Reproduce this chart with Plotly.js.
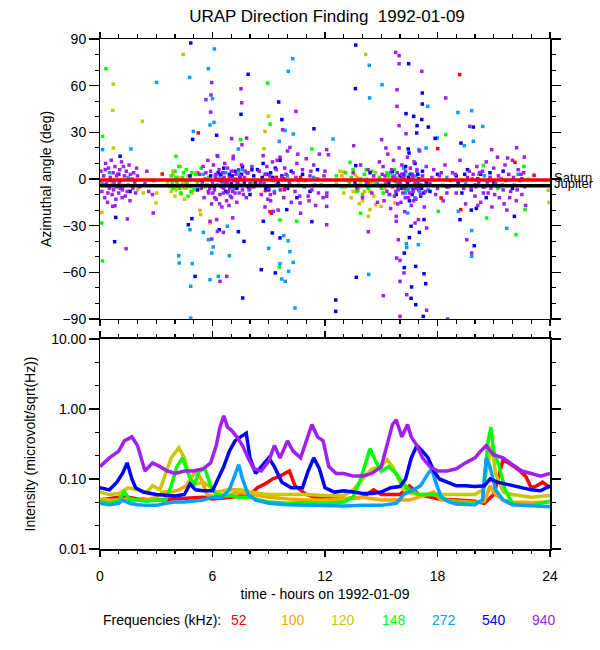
<!DOCTYPE html>
<html><head><meta charset="utf-8">
<script src="https://cdn.plot.ly/plotly-3.0.1.min.js"></script>
<style>html,body{margin:0;padding:0;background:#fff}#chart{width:600px;height:650px}</style>
</head><body><div id="chart"></div>
<script>
// ---------- DATA ----------
const freqLabels = ['52','100','120','148','272','540','940'];
const freqColors = ['#ff0000','#ffa500','#c8c800','#00ff00','#00a0ff','#0000ff','#a020f0'];
const timeRange = [0, 24];
const saturnAngle = [-0.6];
const jupiterAngle = [-4.3];
const angleTicks = [-90,-60,-30,0,30,60,90];
const intensityTicks = [0.01,0.1,1,10];
const intensityTickText = ['0.01','0.10','1.00','10.00'];
const intensityMinor = [0.0215,0.0464,0.215,0.464,2.15,4.64];

// azimuth points [hour, angle]
const az52 = [[4.6,-2],[5.2,4],[5.24,29.6],[3.32,3.2],[9.07,-21],[9.15,-22],[9.83,-6.9],[8.82,-7.5],[8.2,-5],[9.4,1],[10.7,1],
  [14.3,-3],[16.2,2],[17.0,-7],[19.18,67.1],[18.01,19.5],[19.24,-19.7],[18.19,-12.2],[22.13,10.7],[23.15,2.4],[20.8,-1]];
const az100 = [[3.9,5],[4.1,-3],[4.3,8],[4.5,-6],[4.7,2],[4.9,-9],[5.1,4],[5.3,-1],[4.44,80.1],[8.8,30.6],[0.09,-21.4],[5.87,-28.3],[5.33,-20.2],
  [12.98,4.5],[12.9,2],[13.3,-4],[13.7,1],[14.1,-8],[14.5,-2],[14.7,-16.5],[14.99,-17.6],[15.73,-15.4],[15.2,-6],[15.6,3],[22.84,0]];
const az120 = [[3.6,-2],[3.8,-8],[3.9,3],[4.0,-11],[4.1,-5],[4.2,1],[4.3,-9],[4.4,-3],[4.5,-13],[4.6,-6],[4.7,2],[4.9,-8],[1.2,-4],[2.0,-7],
  [0.71,61],[0.68,44.1],[2.26,37.1],[0.71,19.9],[2.31,-9],[2.99,-15.4],[3.02,-9],[5.37,-22.9],[8.98,40.3],[8.75,19.5],
  [12.6,-3],[12.8,5],[13.0,-9],[13.2,-1],[13.4,-12],[13.6,3],[13.8,-6],[14.0,-14],[14.2,0],[14.4,-8],[14.7,4],[15.0,-5],[15.4,-10],[15.8,1],
  [14.17,80.1],[13.78,-7.5],[13.83,-15.9],[14.31,-24],[14.4,-19.7],[23.91,-7.3],[23.95,-15],
  [3.7,-5],[4.05,-7],[4.25,-4],[4.35,-10],[4.55,-1],[4.8,-5],[13.1,-5],[13.5,-8],[13.9,-2],[14.3,-4],[14.6,-11],[15.2,-2]];
const az148 = [[3.8,2],[3.9,-6],[4.0,5],[4.1,-2],[4.2,8],[4.3,-9],[4.4,1],[4.5,-4],[4.6,6],[4.7,-11],[4.8,0],[4.9,4],[5.0,-7],[5.1,3],[5.2,-2],
  [5.4,7],[5.6,-5],[5.8,1],[6.6,-2],[7.4,4],[8.2,-3],[0.32,70.9],[0.14,27.4],[0.09,-28.3],[0.14,-52.7],[4.05,14.6],[8.94,61.7],[9.07,35.3],
  [7.5,25.3],[11.3,19.3],[9.6,-26.4],[10.49,-27.2],[9.56,-56.6],
  [12.6,2],[12.9,-5],[13.1,4],[13.3,-2],[13.5,6],[13.7,-8],[13.9,0],[14.1,3],[14.3,-6],[14.5,5],[14.7,-3],[14.9,1],[15.1,-9],[15.3,4],[15.5,-1],
  [15.7,6],[15.9,-4],[16.1,2],[16.3,-7],[18.3,-4],[20.2,3],[21.2,-6],[22.4,-1],[13.33,10.7],[18.44,28.5],[13.9,-22.1],[18.04,-20.8],[20.62,-25.1],
  [22.19,-35.8],[22.67,-19.7],[22.61,8.1],[20.44,8.6],
  [3.85,-3],[4.05,1],[4.25,-6],[4.45,4],[4.65,-2],[4.85,-8],[13.4,1],[13.8,-4],[14.2,6],[14.6,-1],[15.0,-6],[15.4,2],[15.8,-2],[14.0,-10]];
const az272 = [[0.1,-2],[0.5,4],[1.2,-6],[1.5,1],[5.5,3],[6.2,-4],[6.4,2],[6.8,-9],[7.0,0],[7.3,-3],[7.6,6],[8.0,-6],[8.8,3],[9.3,-8],[10.0,2],
  [10.6,-4],[11.4,1],[6.1,83.6],[5.78,70.9],[3.02,62.1],[4.78,65.3],[6.0,51.6],[6.08,36.4],[4.98,30.6],[5.87,34.7],[7.38,19.3],[1.65,19.3],
  [10.04,69.2],[10.28,77.3],[10.31,28.9],[9.87,31.2],[9.56,24.2],[0.14,18.9],[4.8,-32.6],[5.51,-34.3],[5.78,-39],[6.04,-43.7],[5.96,-47.6],
  [6.9,-49.3],[4.2,-49.3],[4.23,-54],[4.92,-54.4],[4.84,-69],[5.87,-64.7],[6.31,-62.6],[9.69,-64.3],[9.88,-65.8],[10.06,-59.4],[10.13,-46.7],
  [10.4,-82.9],[9.0,-44.6],[9.8,-36.4],[10.03,-39.7],[9.6,-54.4],[10.31,-53.6],[6.79,-30.4],[4.84,-89.4],
  [14.8,-3],[15.5,4],[15.9,-6],[16.1,0],[16.2,7],[16.3,-9],[16.4,-2],[16.5,3],[16.6,-5],[16.7,1],[16.8,-12],[16.9,5],[17.0,-3],[17.2,2],
  [17.5,-7],[18.5,1],[19.5,-3],[20.5,2],[21.3,-5],[22.3,3],[14.36,73.1],[15.04,60.6],[14.38,52.1],[12.43,25.7],[17.48,46.7],[19.09,42.8],
  [19.82,43.9],[20.41,33.8],[19.43,21.4],[19.91,24.2],[17.99,26.4],[17,18.9],[17.39,19.9],[14.33,-61.3],[16.34,-41.6],[16.36,-44],[16.98,-42.2],
  [19.82,-33.2],[19.82,-49.7],[21.69,-31.7],[19.11,-20.8],[16.41,-21.9],
  [16.05,-4],[16.25,3],[16.45,-7],[16.55,0],[16.75,-4],[16.85,2],[17.05,-8],[6.5,-2],[6.7,4],[7.15,-6],[7.45,1],[15.7,2]];
const az540 = [[5.9,2],[6.1,-5],[6.3,4],[6.5,-1],[6.6,7],[6.7,-8],[6.9,3],[7.0,-3],[7.2,5],[7.3,-6],[7.45,1],[7.6,8],[7.7,-2],[7.85,4],[8.0,-10],
  [8.2,2],[8.4,6],[8.55,-4],[8.7,10],[8.9,3],[9.0,-7],[9.2,1],[9.35,7],[9.5,-2],[9.6,12],[9.8,0],[10.0,-6],[10.2,5],[10.5,-12],[10.8,3],
  [11.2,-8],[11.6,6],[0.3,-4],[1.0,3],[1.6,-8],[4.8,2],[5.2,-7],[4.84,87.4],[7.9,67.3],[7.52,41.6],[9.53,49.5],[9.7,38.2],[11.41,32.3],
  [6.22,28.1],[4.94,25.5],[1.07,14.6],[0.84,-24.7],[0.78,-40.3],[4.71,-29.4],[4.9,-25.5],[6.36,-32.6],[7.38,-33.9],[7.68,-40.1],[8.71,-27.2],
  [9.19,-34.7],[9.6,-37.9],[8.6,-58.3],[9.35,-60.4],[7.61,-76.5],[5.07,-62.6],[11.3,-27.4],[9.96,-19.7],
  [15.4,-3],[15.6,5],[15.8,-10],[16.0,2],[16.1,-6],[16.3,8],[16.4,-2],[16.5,-14],[16.6,3],[16.7,-7],[16.8,10],[16.9,-4],[17.0,0],[17.1,-11],
  [17.2,5],[17.4,-2],[17.6,-8],[18.0,3],[18.5,-5],[19.0,2],[19.3,-9],[19.6,6],[20.0,-4],[20.3,3],[20.6,-12],[21.0,-2],[21.5,5],[22.0,-6],
  [22.5,0],[13.6,-2],[14.4,4],[13.64,86.1],[16.46,74.1],[13.62,58.1],[17.19,55.3],[17.19,48.2],[16.32,42],[17.16,38.2],[16.73,40.3],
  [17.51,33.4],[16.91,34.3],[16.89,29.6],[17.87,26.1],[19.91,33.4],[19.25,23.1],[16.44,19.3],[16.48,16.7],[13.64,8.6],[16.59,-30.4],
  [17.03,-34.3],[16.5,-37.7],[16.23,-47.6],[16.23,-57],[16.84,-56.2],[17.28,-60.9],[17.37,-67.3],[16.62,-69.4],[16.59,-76.7],[16.84,-80.8],
  [17.24,-88.3],[13.67,-63.2],[12.57,-77.8],[12.57,-85.1],[19.96,-42.9],[19.2,-26.1],[20.07,-18.9],[19.8,-20],[22.1,-24],[17.28,-26.1],[17.26,-9],
  [6.2,0],[6.45,3],[6.8,-4],[7.05,2],[7.35,-1],[7.55,3],[7.9,-5],[8.1,6],[8.3,-2],[8.65,1],[8.85,-6],[9.1,4],[9.4,-4],[9.7,2],[15.7,-1],
  [15.95,-4],[16.15,3],[16.45,1],[16.65,-10],[16.95,3],[17.15,-6],[19.1,-2],[19.45,3],[19.8,-7],[20.15,0],[20.45,-5],[20.8,4]];
const az940 = [
  [0.05,5],[0.1,-8],[0.2,2],[0.25,-12],[0.3,10],[0.35,-3],[0.4,-15],[0.45,7],[0.5,-6],[0.55,1],[0.6,12],[0.65,-10],[0.7,4],[0.75,-2],[0.8,8],
  [0.85,-13],[0.9,-5],[0.95,3],[1.0,-9],[1.05,6],[1.1,-1],[1.15,11],[1.2,-7],[1.3,2],[1.35,-11],[1.4,5],[1.5,-4],[1.55,9],[1.6,-14],[1.7,0],
  [1.75,-6],[1.8,4],[1.9,-9],[2.0,2],[2.1,-5],[2.4,-3],[2.5,5],[2.6,-8],[2.8,-10],[2.85,-1],
  [0.15,-4],[0.28,6],[0.42,-9],[0.58,-1],[0.72,-7],[0.88,2],[1.02,-3],[1.18,-12],[1.25,8],[1.45,-8],[1.62,3],[1.85,-2],[1.95,7],[0.62,-4],[1.08,-6],
  [5.3,3],[5.4,-6],[5.5,8],[5.55,-12],[5.6,0],[5.7,-4],[5.75,12],[5.8,-9],[5.9,5],[5.95,-16],[6.0,-2],[6.05,9],[6.1,-7],[6.15,2],[6.2,-13],
  [6.25,15],[6.3,-4],[6.35,6],[6.4,-10],[6.45,0],[6.5,-18],[6.55,4],[6.6,-6],[6.65,10],[6.7,-3],[6.75,-14],[6.8,7],[6.85,-8],[6.9,1],
  [6.95,-11],[7.0,5],[7.05,-5],[7.1,13],[7.15,-1],[7.2,-9],[7.25,3],[7.3,-15],[7.4,6],[7.5,-4],[7.55,9],[7.6,-7],[7.7,1],[7.8,-12],[7.9,4],
  [8.0,-3],[8.1,8],
  [5.45,-2],[5.65,4],[5.85,-6],[6.02,-9],[6.18,3],[6.32,-1],[6.48,-5],[6.62,1],[6.78,-2],[6.92,-6],[7.08,-8],[7.22,0],[7.35,-3],[7.48,2],
  [7.65,-10],[7.75,5],[7.95,-7],[6.12,-12],[6.58,-9],[7.02,-12],[6.38,-16],[6.88,-17],[5.78,-8],[7.42,-9],
  [8.5,5],[8.6,-10],[8.7,15],[8.75,-3],[8.8,-18],[8.9,8],[9.0,-6],[9.05,2],[9.1,-14],[9.2,11],[9.25,-1],[9.3,-9],[9.4,6],[9.5,-20],[9.55,-4],
  [9.6,14],[9.7,1],[9.8,-12],[9.85,7],[9.9,-6],[10.0,18],[10.1,-2],[10.2,-15],[10.3,4],[10.4,-8],[10.5,10],[10.6,-1],[10.7,-22],[10.8,6],
  [10.9,-5],[11.0,13],[11.1,-11],[11.2,2],[11.3,-7],[11.4,9],[11.5,-17],[11.6,0],[11.7,16],[11.8,-4],[11.9,-12],[12.0,5],[12.1,-9],
  [8.55,-2],[8.82,3],[9.08,-10],[9.35,0],[9.62,-7],[9.92,3],[10.15,-4],[10.45,1],[10.65,-11],[10.95,-1],[11.25,5],[11.45,-4],[11.65,-9],
  [11.95,2],[9.45,12],[10.55,16],[11.15,-14],[8.95,-13],
  [13.5,4],[13.7,-6],[13.9,9],[14.0,-12],[14.2,-2],[14.3,6],[14.5,-9],[14.6,2],[14.8,-15],[14.9,11],
  [15.0,-4],[15.1,8],[15.15,-14],[15.2,2],[15.3,-8],[15.35,16],[15.4,-1],[15.5,-19],[15.55,6],[15.6,-5],[15.65,12],[15.7,-11],[15.75,0],
  [15.8,-24],[15.85,4],[15.9,-7],[15.95,20],[16.0,-2],[16.05,-15],[16.1,9],[16.15,-9],[16.2,1],[16.25,-21],[16.3,5],[16.35,-5],[16.4,14],
  [16.45,-12],[16.5,-1],[16.55,7],[16.6,-17],[16.65,3],[16.7,-8],[16.75,11],[16.8,-3],[16.85,-13],[16.9,6],[17.0,-6],[17.05,18],[17.1,-10],
  [17.2,2],[17.3,-18],[17.4,8],
  [15.05,3],[15.25,-3],[15.45,-10],[15.62,1],[15.78,-8],[15.92,-3],[16.08,3],[16.22,-6],[16.38,-1],[16.52,-9],[16.68,2],[16.82,-6],[16.95,-1],
  [17.15,-4],[17.35,-8],[15.88,-16],[16.28,-12],[16.72,-14],
  [17.6,-3],[17.8,6],[17.9,-10],[18.1,2],[18.3,-14],[18.4,9],[18.6,-5],[18.8,4],[19.0,-9],[19.2,12],[19.3,-1],[19.5,-16],[19.7,5],
  [17.7,1],[18.0,-6],[18.2,4],[18.5,-9],[18.7,-1],[18.95,3],[19.4,-6],[19.6,1],
  [19.8,-6],[19.9,3],[20.0,-11],[20.1,8],[20.2,-2],[20.3,-15],[20.4,5],[20.5,-5],[20.6,11],[20.7,-9],[20.8,1],[20.9,-18],[21.0,7],[21.1,-3],
  [21.2,14],[21.3,-12],[21.4,0],[21.5,-7],[21.6,9],[21.7,-20],[21.8,3],[21.9,-8],[22.0,12],[22.1,-4],[22.2,-14],[22.3,6],[22.4,-1],[22.5,-10],
  [22.6,4],[22.7,-17],
  [19.85,0],[20.05,-5],[20.25,4],[20.45,-9],[20.65,-2],[20.85,-6],[21.05,-10],[21.25,2],[21.45,-4],[21.65,-1],[21.85,-12],[22.05,1],[22.25,-7],
  [22.45,3],[22.65,-5],[20.15,-17],[21.55,-16],
  [5.96,62],[5.92,54],[5.65,51],[5.9,43],[7.52,58],[7.56,49],[10.45,43.5],[9.74,31.7],[10.13,20.3],[6.28,14.6],[7.57,22],[1.46,-25.7],
  [1.39,-44.8],[6.76,-62.6],[6.4,-65.8],[5.96,-38.6],[6.26,-33.7],[6.58,-34.3],[7.08,-25],[9.24,-20.8],[10.67,-15.4],[12.09,-29.4],[0.8,-17.2],
  [0.68,-17.6],[2.84,-21.9],[5.87,-27.2],[6.22,-26.1],[7.02,26],[7.82,26.3],[7.11,14.6],
  [15.77,81.4],[15.95,79.3],[15.95,74.1],[17.16,69.2],[15.84,57.4],[15.84,46.7],[15.95,34.3],[16.32,29.1],[15.02,25.3],[15.25,19.9],
  [13.53,21.4],[12.09,18.9],[12.18,15.6],[18.44,52.1],[19.72,33.8],[20.89,18.9],[22.22,20.1],[22.63,14.1],[21.74,13.5],[14.31,-33.9],
  [15.91,-39],[15.82,-50.8],[16,-52.3],[16.21,-60.4],[16,-65.8],[16.36,-74.4],[15.11,-75],[16,-88.3],[17.42,-84.4],[17.42,-31.5],[19.56,-39],
  [19.82,-47.6],[18.54,-90],[16.8,-28.3],[16.98,-26.1],[15.8,-27.2],[12.09,-17.6],[12.09,-11.2]];
const azimuthSeries = [az52, az100, az120, az148, az272, az540, az940];

// intensity time series (hours, microvolt/sqrt(Hz))
const t52 = [0,0.5,1,1.5,2,3,4,5,5.5,6,7,8,8.4,8.8,9.2,9.6,10.1,10.4,11,11.5,12,13,14,14.6,15,16,16.5,17,18,19,20,20.5,21,21.5,21.8,22.1,22.4,22.7,23,23.3,23.6,24];
const v52 = [0.05,0.052,0.055,0.055,0.052,0.05,0.052,0.055,0.055,0.052,0.055,0.06,0.075,0.085,0.1,0.11,0.13,0.08,0.06,0.055,0.052,0.052,0.055,0.07,0.06,0.06,0.08,0.06,0.052,0.05,0.048,0.045,0.06,0.19,0.17,0.15,0.13,0.11,0.075,0.08,0.09,0.075];
const t100 = [0,0.5,1,1.5,2,2.5,3,3.4,3.8,4.2,4.6,4.9,5.1,5.4,5.7,6.2,6.8,7.3,7.8,8.3,9,10,11,12,13,14,15,16,16.5,17,17.5,17.8,18.2,19,20,20.5,20.8,21.1,21.5,22,23,24];
const v100 = [0.052,0.05,0.05,0.052,0.05,0.05,0.055,0.065,0.065,0.07,0.08,0.11,0.13,0.1,0.06,0.055,0.058,0.065,0.062,0.06,0.055,0.052,0.05,0.05,0.052,0.055,0.05,0.05,0.05,0.055,0.062,0.065,0.05,0.048,0.046,0.048,0.08,0.06,0.05,0.047,0.046,0.047];
const t120 = [0,0.5,1,1.5,2,2.5,2.8,3.2,3.5,3.8,4.2,4.5,4.8,5.1,5.5,5.8,6.2,6.8,7.5,8,8.5,9,10,11,12,13,13.5,14,14.5,15,15.3,15.6,15.9,16.2,16.6,17,18,19,20,20.4,20.7,20.9,21.1,21.5,22,23,24];
const v120 = [0.065,0.06,0.062,0.075,0.07,0.065,0.08,0.07,0.12,0.2,0.28,0.2,0.1,0.085,0.09,0.08,0.065,0.07,0.07,0.065,0.062,0.06,0.06,0.06,0.058,0.058,0.07,0.1,0.14,0.15,0.19,0.15,0.1,0.07,0.062,0.06,0.06,0.06,0.06,0.07,0.18,0.3,0.12,0.065,0.06,0.055,0.058];
const t148 = [0,0.5,1,1.3,1.6,2,2.5,3,3.5,3.8,4.1,4.4,4.7,5,5.3,5.6,5.9,6.2,6.8,7.5,8,8.5,9,10,11,12,13,13.5,13.9,14.2,14.4,14.7,15,15.4,15.8,16.1,16.5,17,17.5,18,18.5,19,20,20.4,20.7,20.85,21,21.3,21.6,22,22.5,23,23.5,24];
const v148 = [0.048,0.045,0.05,0.065,0.05,0.05,0.048,0.05,0.05,0.08,0.15,0.2,0.12,0.08,0.13,0.14,0.08,0.06,0.058,0.055,0.055,0.05,0.047,0.045,0.046,0.045,0.047,0.055,0.1,0.18,0.27,0.18,0.13,0.15,0.12,0.09,0.07,0.06,0.06,0.06,0.05,0.046,0.045,0.05,0.35,0.55,0.25,0.15,0.07,0.045,0.042,0.042,0.045,0.048];
const t272 = [0,0.5,1,1.2,1.6,2,2.5,3,3.5,4,4.5,5,5.5,6,6.5,6.9,7.2,7.4,7.6,7.9,8.3,9,10,11,12,13,14,15,15.8,16.2,16.7,17.1,17.5,17.7,17.9,18.2,18.6,19,20,20.4,20.6,20.8,21.1,21.5,22,23,24];
const v272 = [0.045,0.043,0.045,0.05,0.045,0.043,0.042,0.042,0.045,0.047,0.047,0.048,0.05,0.055,0.055,0.07,0.12,0.16,0.1,0.06,0.05,0.045,0.043,0.042,0.042,0.041,0.042,0.042,0.045,0.06,0.07,0.08,0.12,0.14,0.09,0.055,0.047,0.044,0.043,0.05,0.2,0.15,0.07,0.05,0.043,0.041,0.04];
const t540 = [0,0.5,0.9,1.2,1.45,1.7,1.9,2.3,3,3.5,4,4.5,4.8,5.1,5.5,6,6.3,6.6,6.9,7.2,7.5,7.8,8,8.3,8.6,9,9.3,9.7,10.2,10.8,11.1,11.4,11.7,12,12.5,13,13.5,14,14.5,15,15.5,16,16.3,16.6,16.9,17.2,17.5,17.8,18.1,18.5,19,19.5,20,20.5,20.8,21.2,21.6,22,22.5,23,23.5,24];
const v540 = [0.075,0.07,0.09,0.12,0.17,0.1,0.075,0.065,0.06,0.058,0.057,0.06,0.085,0.07,0.068,0.068,0.1,0.15,0.25,0.35,0.4,0.45,0.2,0.12,0.15,0.2,0.15,0.09,0.075,0.075,0.13,0.2,0.14,0.075,0.065,0.068,0.065,0.062,0.062,0.065,0.075,0.078,0.1,0.2,0.3,0.25,0.2,0.13,0.1,0.09,0.08,0.08,0.078,0.08,0.1,0.09,0.085,0.08,0.075,0.07,0.068,0.08];
const t940 = [0,0.5,1,1.3,1.7,2,2.4,2.8,3.2,3.6,4,4.5,5,5.5,5.9,6.2,6.4,6.6,6.8,7,7.3,7.6,7.9,8.2,8.6,9,9.3,9.6,10,10.3,10.7,11,11.3,11.6,11.9,12.2,12.6,13,13.5,14,14.5,15,15.3,15.6,15.8,16.1,16.4,16.6,16.9,17.2,17.6,18,18.5,19,19.5,20,20.3,20.6,21,21.5,22,22.5,23,23.5,24];
const v940 = [0.15,0.2,0.25,0.35,0.4,0.3,0.13,0.17,0.15,0.13,0.12,0.13,0.13,0.14,0.17,0.3,0.55,0.8,0.55,0.5,0.4,0.3,0.2,0.14,0.13,0.18,0.3,0.2,0.35,0.25,0.2,0.35,0.6,0.4,0.35,0.15,0.12,0.12,0.11,0.11,0.12,0.15,0.3,0.6,0.7,0.4,0.6,0.4,0.3,0.2,0.15,0.13,0.13,0.14,0.17,0.2,0.25,0.3,0.22,0.2,0.16,0.13,0.12,0.11,0.12];
const intensityT = [t52,t100,t120,t148,t272,t540,t940];
const intensityV = [v52,v100,v120,v148,v272,v540,v940];

// ---------- PLOT ----------
const FONT = 'Liberation Sans, Arial, Helvetica, sans-serif';
const traces = [];
azimuthSeries.forEach((pts, i) => {
  traces.push({
    type: 'scatter', mode: 'markers', xaxis: 'x', yaxis: 'y',
    x: pts.map(p => p[0]), y: pts.map(p => p[1]),
    marker: {symbol: 'square', size: 3.5, color: freqColors[i], line: {width: 0}},
    name: freqLabels[i] + ' kHz', showlegend: false, hoverinfo: 'skip'
  });
});
intensityT.forEach((t, i) => {
  traces.push({
    type: 'scatter', mode: 'lines', xaxis: 'x2', yaxis: 'y2',
    x: t, y: intensityV[i],
    line: {color: freqColors[i], width: 3.5},
    name: freqLabels[i] + ' kHz', showlegend: false, hoverinfo: 'skip'
  });
});

const axBase = {
  showline: true, linecolor: '#000', linewidth: 1.5, mirror: 'ticks',
  ticks: 'outside', tickcolor: '#000', tickwidth: 1.3,
  showgrid: false, zeroline: false,
  tickfont: {family: FONT, size: 14, color: '#000'}
};
const xMinor = {dtick: 1, ticks: 'outside', ticklen: 3.5, tickwidth: 1.2, tickcolor: '#000', showgrid: false};

const legendX = [239, 293, 343, 394, 444, 494, 544]; // pixel centres of legend labels
const plotL = 100, plotW = 450, plotTop = 39, plotH = 510;
const annotations = [
  {xref: 'paper', yref: 'paper', x: (101 - plotL) / plotW, y: (plotTop + plotH - 620) / plotH,
   xanchor: 'left', yanchor: 'middle', text: 'Frequencies (kHz):', showarrow: false,
   font: {family: FONT, size: 14, color: '#000'}},
  {xref: 'paper', yref: 'y', x: 1, y: saturnAngle[0], xanchor: 'left', yanchor: 'middle', xshift: 2, yshift: 2,
   text: 'Saturn', showarrow: false, font: {family: FONT, size: 13, color: '#000'}},
  {xref: 'paper', yref: 'y', x: 1, y: jupiterAngle[0], xanchor: 'left', yanchor: 'middle', xshift: 2, yshift: 2,
   text: 'Jupiter', showarrow: false, font: {family: FONT, size: 13, color: '#000'}}
];
freqLabels.forEach((f, i) => {
  annotations.push({xref: 'paper', yref: 'paper', x: (legendX[i] - plotL) / plotW, y: (plotTop + plotH - 620) / plotH,
    xanchor: 'center', yanchor: 'middle', text: f, showarrow: false,
    font: {family: FONT, size: 14, color: freqColors[i]}});
});

const layout = {
  width: 600, height: 650,
  margin: {l: plotL, r: 600 - plotL - plotW, t: plotTop, b: 650 - plotTop - plotH, pad: 0},
  paper_bgcolor: '#fff', plot_bgcolor: '#fff',
  font: {family: FONT, color: '#000'},
  title: {text: 'URAP Direction Finding \u00a01992-01-09', x: 327 / 600, xanchor: 'center',
          y: 1 - 16 / 650, yanchor: 'middle', font: {family: FONT, size: 17, color: '#000'}},
  xaxis: Object.assign({}, axBase, {
    domain: [0, 1], anchor: 'y', range: timeRange, tickmode: 'linear', tick0: 0, dtick: 6,
    ticklen: 6, showticklabels: false, minor: xMinor
  }),
  yaxis: Object.assign({}, axBase, {
    domain: [0.451, 1], anchor: 'x', range: [-90, 90], tickmode: 'array', tickvals: angleTicks,
    ticklen: 9.5,
    minor: {dtick: 10, tick0: 0, ticks: 'outside', ticklen: 4, tickwidth: 1.2, tickcolor: '#000', showgrid: false},
    title: {text: 'Azimuthal angle (deg)', font: {family: FONT, size: 14, color: '#000'}, standoff: 7}
  }),
  xaxis2: Object.assign({}, axBase, {
    domain: [0, 1], anchor: 'y2', range: timeRange, tickmode: 'linear', tick0: 0, dtick: 6,
    ticklen: 6, ticklabelstandoff: 8, minor: xMinor,
    title: {text: 'time - hours on 1992-01-09', font: {family: FONT, size: 14, color: '#000'}, standoff: 6}
  }),
  yaxis2: Object.assign({}, axBase, {
    domain: [0, 0.4118], anchor: 'x2', type: 'log', range: [-2, 1],
    tickmode: 'array', tickvals: intensityTicks, ticktext: intensityTickText, ticklen: 9.5,
    minor: {tickmode: 'array', tickvals: intensityMinor, ticks: 'outside', ticklen: 4, tickwidth: 1.2, tickcolor: '#000', showgrid: false},
    title: {text: 'Intensity (microvolt/sqrt(Hz))', font: {family: FONT, size: 14, color: '#000'}, standoff: 12}
  }),
  shapes: [
    {type: 'line', xref: 'x', yref: 'y', x0: timeRange[0], x1: timeRange[1], y0: saturnAngle[0], y1: saturnAngle[0],
     line: {color: '#ff0000', width: 3.5}, layer: 'above'},
    {type: 'line', xref: 'x', yref: 'y', x0: timeRange[0], x1: timeRange[1], y0: jupiterAngle[0], y1: jupiterAngle[0],
     line: {color: '#000000', width: 3.5}, layer: 'above'}
  ],
  annotations: annotations,
  showlegend: false
};

Plotly.newPlot('chart', traces, layout, {staticPlot: true, displayModeBar: false});
</script>
</body></html>
